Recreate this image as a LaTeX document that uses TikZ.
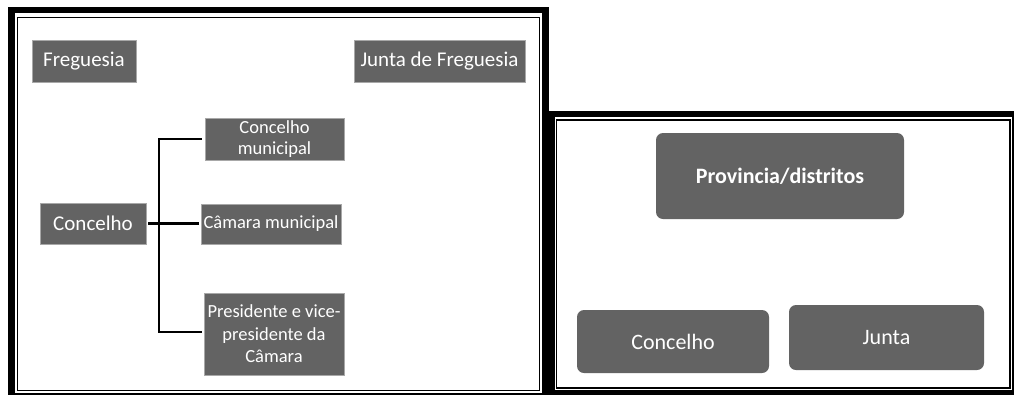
\documentclass[tikz,border=0pt]{standalone}
\usepackage{fontspec}
\setmainfont{Carlito}
\definecolor{boxgray}{HTML}{636363}
\definecolor{edgegray}{HTML}{A8A8A8}
\tikzset{
  thickframe/.style={draw=black, line width=6.5pt},
  thinframe/.style={draw=black, line width=1.6pt},
  sqbox/.style={rectangle, fill=boxgray, draw=edgegray, line width=0.8pt, text=white, inner sep=0pt, align=center},
  rbox/.style={rectangle, rounded corners=7pt, fill=boxgray, text=white, inner sep=0pt, align=center},
  big/.style={font=\fontsize{21}{25}\selectfont},
  small/.style={font=\fontsize{18.5}{21}\selectfont},
  conn/.style={draw=black, line width=2.4pt}
}
\begin{document}
\begin{tikzpicture}[x=1pt, y=-1pt]
\useasboundingbox (0,0) rectangle (1014,394);
% left panel frame
\draw[thickframe] (11.5,10) rectangle (545.5,396.5);
\draw[thinframe] (17.5,17.5) rectangle (539.5,390.5);
% right panel frame
\draw[thickframe] (551.5,114) rectangle (1015.5,393.5);
\draw[thinframe] (556.5,120) rectangle (1010,388);

% left panel nodes
\node[sqbox, big, minimum width=104pt, minimum height=42pt] (freg) at (84,61) {Freguesia};
\node[sqbox, big, minimum width=171pt, minimum height=42pt] (junta) at (439.5,61) {Junta de Freguesia};
\node[sqbox, big, minimum width=106pt, minimum height=41pt] (conc) at (93,223.5) {Concelho};
\node[sqbox, small, minimum width=139pt, minimum height=42pt, font=\fontsize{18.5}{20.5}\selectfont] (cmun) at (274.5,139) {Concelho\\municipal};
\node[sqbox, small, minimum width=140pt, minimum height=40pt] (camara) at (271,224) {Câmara municipal};
\node[sqbox, small, minimum width=140pt, minimum height=82pt, font=\fontsize{18.5}{22.5}\selectfont] (pres) at (274,334) {Presidente e vice-\\presidente da\\Câmara};

% bracket connectors
\coordinate (vtop) at (159,139);
\coordinate (vbot) at (159,332);
\coordinate (vmid) at (159,223.5);
\draw[conn] ([xshift=-3pt]cmun.west |- vtop) -- (vtop) -- (vbot) -- ([xshift=-2pt]pres.west |- vbot);
\draw[conn] (conc.east) ++(2pt,0) -- ([xshift=-2pt]camara.west |- vmid);

% right panel nodes
\node[rbox, font=\fontsize{22}{26}\selectfont\bfseries, minimum width=248pt, minimum height=86pt] (prov) at (780,176) {Provincia/distritos};
\node[rbox, font=\fontsize{22}{26}\selectfont, minimum width=192pt, minimum height=63pt] (rconc) at (673,341.5) {Concelho};
\node[rbox, font=\fontsize{22}{26}\selectfont, minimum width=195pt, minimum height=65pt] (rjunta) at (886.5,337.5) {Junta};
\end{tikzpicture}
\end{document}
